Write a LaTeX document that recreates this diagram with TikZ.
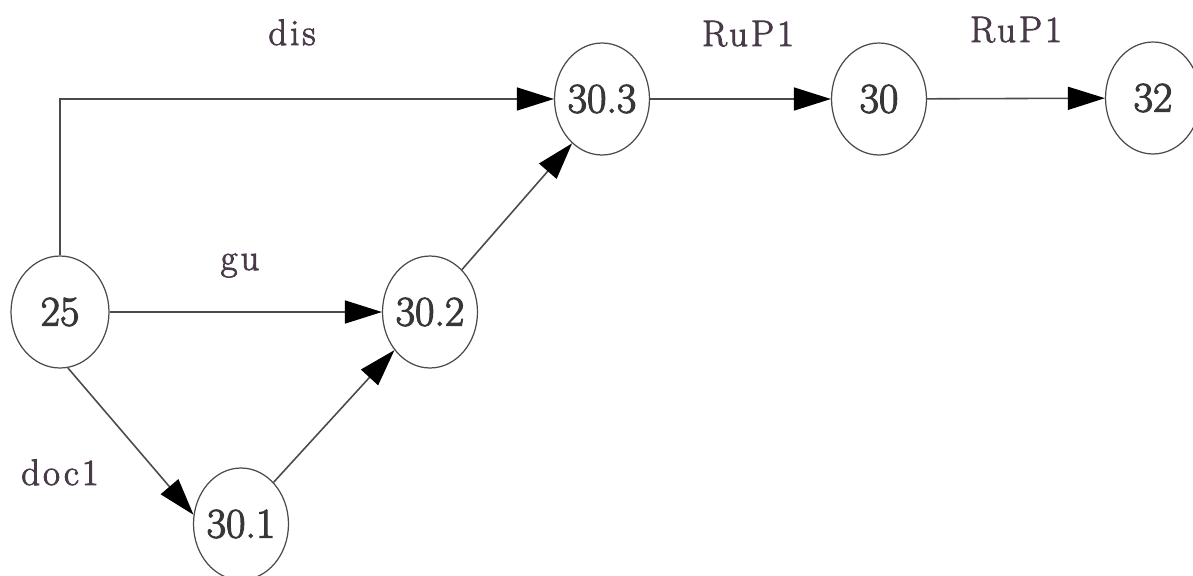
\documentclass[tikz,border=0pt]{standalone}
\usepackage{fontspec}
\setmainfont{Latin Modern Roman}
\usetikzlibrary{arrows.meta,shapes.geometric}
\definecolor{lbl}{RGB}{72,58,72}
\definecolor{txt}{RGB}{55,55,55}
\definecolor{ln}{RGB}{75,75,75}
\newcommand{\zw}[1]{\makebox[0pt]{#1}}
\tikzset{
  state/.style={ellipse,draw=ln,line width=0.7pt,minimum width=1.9cm,minimum height=2.24cm,inner sep=0pt,text=txt,font=\fontsize{24}{28}\selectfont\addfontfeatures{FakeBold=2.6}},
  edge/.style={draw=ln,line width=0.9pt,-{Triangle[length=0.74cm,width=0.46cm,color=black,fill=black]}},
  elabel/.style={anchor=base,text=lbl,inner sep=0pt,font=\fontsize{21}{25}\selectfont\addfontfeatures{LetterSpace=8,FakeBold=2.2}}
}
\begin{document}
\begin{tikzpicture}[x=0.02cm,y=-0.02cm]
\useasboundingbox (0,0) rectangle (1193,575);
\node[state,minimum width=1.96cm] (n25) at (60,312) {\zw{25}};
\node[state] (n301) at (241,524) {\zw{30.1}};
\node[state] (n302) at (430,312) {\zw{30.2}};
\node[state] (n303) at (602,99) {\zw{30.3}};
\node[state] (n30) at (879,99) {\zw{30}};
\node[state] (n32) at (1153,98) {\zw{32}};
\node[elabel] (ldis) at (292,45) {dis};
\node[elabel] (lr1) at (748,46) {RuP1};
\node[elabel] (lr2) at (1016,42) {RuP1};
\node[elabel] (lgu) at (240,270) {gu};
\node[elabel] (ldoc) at (60,485) {doc1};
\draw[edge] (n25.north) |- (n303.west);
\draw[edge] (n25) -- (n302);
\draw[edge] (n25.-82) -- (n301.169);
\draw[edge] (n301.52) -- (n302.227);
\draw[edge] (n302.53) -- (n303.236);
\draw[edge] (n303) -- (n30);
\draw[edge] (n30) -- (n32);
\end{tikzpicture}
\end{document}
